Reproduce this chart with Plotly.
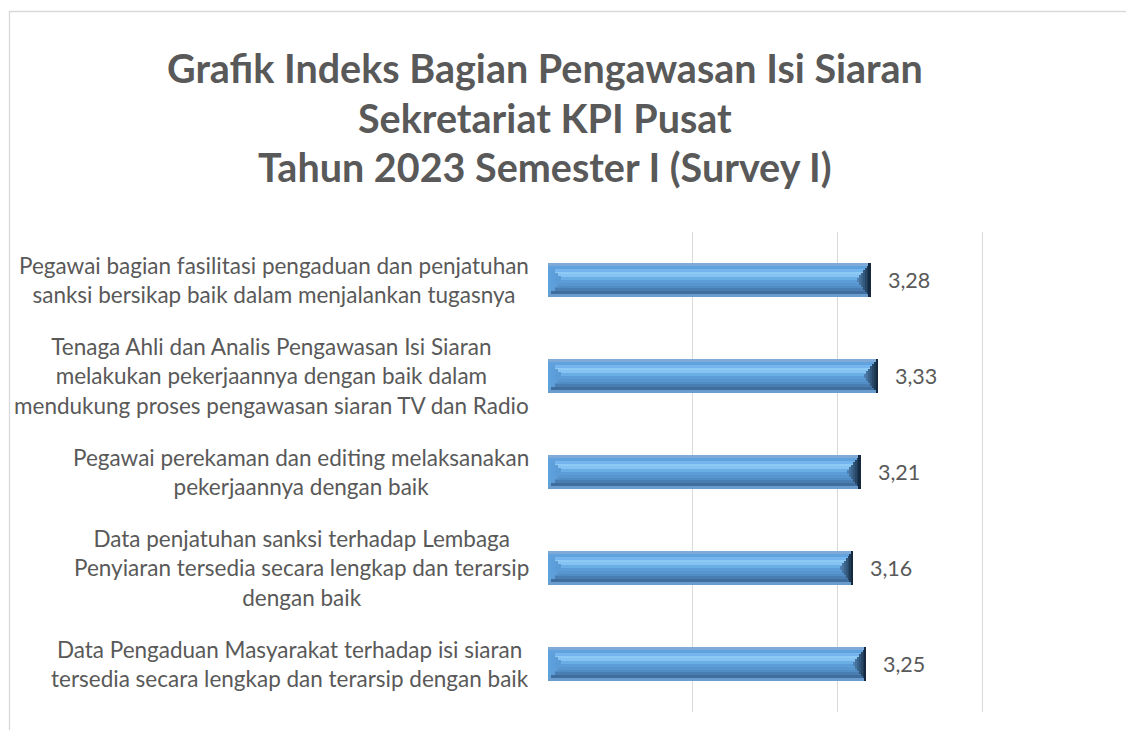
import plotly.graph_objects as go

# ---------------- data ----------------
categories = [
    "Pegawai bagian fasilitasi pengaduan dan penjatuhan<br>sanksi bersikap baik dalam menjalankan tugasnya",
    "Tenaga Ahli dan Analis Pengawasan Isi Siaran<br>melakukan pekerjaannya dengan baik dalam<br>mendukung proses pengawasan siaran TV dan Radio",
    "Pegawai perekaman dan editing melaksanakan<br>pekerjaannya dengan baik",
    "Data penjatuhan sanksi terhadap Lembaga<br>Penyiaran tersedia secara lengkap dan terarsip<br>dengan baik",
    "Data Pengaduan Masyarakat terhadap isi siaran<br>tersedia secara lengkap dan terarsip dengan baik",
]
values = [3.28, 3.33, 3.21, 3.16, 3.25]
title_lines = [
    "Grafik Indeks Bagian Pengawasan Isi Siaran",
    "Sekretariat KPI Pusat",
    "Tahun 2023 Semester I (Survey I)",
]

# ---------------- style ----------------
OFF = 8  # page body margin
W, H = 1134 - OFF, 738 - 2 * OFF
L, R, T = 548 - OFF, 7, 232 - OFF
B = H - (712 - OFF)
PW, PH = W - L - R, H - T - B
X_MIN, X_MAX = 1.05, 5.0501
FONT = "Lato"
TXT = "#595959"
BAR_W = 0.35
band_colors = ["#7FA9D6", "#5FA2DE", "#73B5EC", "#8DCAF6", "#86C3F2", "#6BAEE6",
               "#5C9DD8", "#5896D0", "#528CC4", "#4A7EB3", "#3F6D9E", "#6A9CCD"]
right_bevel_colors = ["#4D80B4", "#46749F", "#3C658D", "#32577B", "#294868", "#1F3A55", "#152A40"]
left_bevel_colors = ["#5A9AD6", "#5B9CD8", "#5D9FDA", "#5FA2DC"]
BEVEL_R = 0.095
BEVEL_L = 0.09


def px_to_paper_x(px):
    return (px - OFF - L) / PW


def px_to_paper_y(py):
    return (H - B - (py - OFF)) / PH


def hbar(x, base, width, offset, color):
    return go.Bar(
        x=x, base=base, y=categories, orientation="h",
        width=width, offset=offset,
        marker=dict(color=color, line=dict(width=0)),
        hoverinfo="skip", showlegend=False,
    )


fig = go.Figure()

# gradient bands of each bar (top to bottom)
n = len(band_colors)
bw = BAR_W / n
for i, c in enumerate(band_colors):
    fig.add_trace(hbar(values, None, bw, -BAR_W / 2 + i * bw, c))

# left bevel: stepped triangle pointing right
K = len(left_bevel_colors)
for k, c in enumerate(left_bevel_colors):
    length = BEVEL_L * (K - k) / K
    h = BAR_W * 0.85 * (k + 1) / K
    fig.add_trace(hbar([length] * len(values), [X_MIN] * len(values), h, -h / 2, c))

# right bevel: stepped triangle pointing left, darker toward the end
K = len(right_bevel_colors)
for k, c in enumerate(right_bevel_colors):
    length = BEVEL_R * (K - k) / K
    h = BAR_W * (k + 1) / K
    fig.add_trace(hbar([length] * len(values), [v - length for v in values], h, -h / 2, c))

annotations = []
# data labels
for c, v in zip(categories, values):
    annotations.append(dict(
        x=v, y=c, xref="x", yref="y", text=f"{v:.2f}".replace(".", ","),
        showarrow=False, xanchor="left", yanchor="middle", xshift=15,
        font=dict(family=FONT, size=21.5, color=TXT),
    ))
# category labels
for c in categories:
    annotations.append(dict(
        x=px_to_paper_x(531), y=c, xref="paper", yref="y", text=c,
        showarrow=False, xanchor="right", yanchor="middle", align="center",
        font=dict(family=FONT, size=22.5, color=TXT),
    ))
# title lines
for line, py in zip(title_lines, [67, 117, 166]):
    annotations.append(dict(
        x=px_to_paper_x(545), y=px_to_paper_y(py), xref="paper", yref="paper",
        text=f"<b>{line}</b>", showarrow=False, xanchor="center", yanchor="middle",
        font=dict(family=FONT, size=39.5, color=TXT),
    ))

fig.update_layout(
    width=W, height=H,
    margin=dict(l=L, r=R, t=T, b=B),
    paper_bgcolor="white", plot_bgcolor="white",
    barmode="overlay", bargap=0,
    showlegend=False,
    annotations=annotations,
    shapes=[dict(
        type="rect", xref="paper", yref="paper",
        x0=px_to_paper_x(9.5), x1=1.2, y0=-0.3, y1=px_to_paper_y(11.5),
        line=dict(color="#D9D9D9", width=1.3), fillcolor="rgba(0,0,0,0)", layer="below",
    )],
    xaxis=dict(
        range=[X_MIN, X_MAX], tick0=X_MIN, dtick=1, showticklabels=False,
        showgrid=True, gridcolor="#D9D9D9", gridwidth=1.3, zeroline=False,
        showline=False, ticks="", fixedrange=True,
    ),
    yaxis=dict(
        categoryorder="array", categoryarray=categories, autorange="reversed",
        showticklabels=False, showgrid=False, zeroline=False, showline=False, ticks="",
    ),
)

fig.write_html("out.html")
